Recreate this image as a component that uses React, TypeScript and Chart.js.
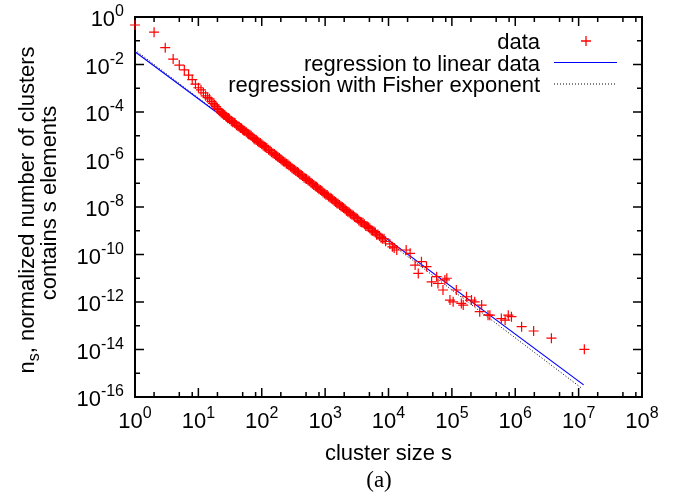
import React, { useEffect, useRef } from "react";
import { Chart, registerables } from "chart.js";

Chart.register(...registerables);

// ---------- data ----------
const clusterSize = [
  1, 2, 3, 4, 5, 6, 7, 8, 9, 10, 11, 12, 13, 14, 15, 16, 17, 18, 19, 20, 21, 22,
  23, 24, 25, 27, 29, 31, 33, 34, 37, 40, 42, 44, 48, 50, 52, 57, 60, 62, 68, 72,
  75, 82, 86, 90, 100, 105, 110, 120, 128, 135, 150, 158, 165, 180, 190, 200, 220,
  232, 245, 270, 285, 300, 330, 345, 365, 400, 420, 440, 490, 510, 540, 600, 630,
  660, 730, 760, 800, 890, 930, 980, 1080, 1130, 1200, 1320, 1390, 1460, 1600,
  1690, 1780, 1960, 2060, 2170, 2400, 2520, 2650, 2930, 3080, 3240, 3580, 3760,
  3960, 4380, 4600, 4840, 5350, 5600, 5900, 6500, 6800, 7200, 8000, 8500, 9000,
  10500, 11500, 12300, 13500, 19000, 21900, 26300, 29500, 33100, 39800, 47900,
  57500, 60300, 72400, 77600, 83200, 93300, 104700, 117500, 141000, 151000,
  170000, 204000, 229000, 275000, 295000, 372000, 398000, 603000, 692000, 776000,
  871000, 1260000, 1950000, 3720000, 12300000,
  26, 28, 30, 35, 38, 46, 54, 65, 78, 95, 115, 142, 172, 210, 258, 315, 380, 465,
  570, 700, 850, 1030, 1260, 1530, 1870, 2280, 2790, 3400, 4160, 5080, 6200, 7600,
];
const clusterDensity = [
  0.46, 0.23, 0.051, 0.017, 0.0095, 0.0059, 0.0036, 0.0023, 0.0015, 0.00105,
  8.5e-4, 6.4e-4, 4.8e-4, 4.0e-4, 3.6e-4, 2.8e-4, 2.3e-4, 2.0e-4, 1.7e-4, 1.4e-4,
  1.25e-4, 1.05e-4,
  9.4e-5, 8.6e-5, 7.6e-5, 6.7e-5, 5.5e-5, 5.0e-5, 4.3e-5, 4.0e-5, 3.5e-5, 2.8e-5,
  2.6e-5, 2.4e-5, 2.05e-5, 1.8e-5, 1.65e-5, 1.42e-5, 1.25e-5, 1.15e-5, 9.9e-6,
  8.6e-6, 7.7e-6, 6.6e-6, 5.8e-6, 5.3e-6, 4.4e-6, 3.9e-6, 3.5e-6, 3.05e-6, 2.6e-6,
  2.35e-6, 1.85e-6, 1.7e-6, 1.52e-6, 1.27e-6, 1.15e-6, 1.02e-6, 8.2e-7, 7.6e-7,
  6.6e-7, 5.6e-7, 4.9e-7, 4.3e-7, 3.7e-7, 3.3e-7, 2.95e-7, 2.4e-7, 2.2e-7, 2.0e-7,
  1.58e-7, 1.5e-7, 1.32e-7, 1.04e-7, 9.6e-8, 8.5e-8, 7.1e-8, 6.4e-8, 5.6e-8,
  4.7e-8, 4.1e-8, 3.7e-8, 3.2e-8, 2.8e-8, 2.45e-8, 2.05e-8, 1.8e-8, 1.62e-8,
  1.38e-8, 1.22e-8, 1.08e-8, 9.1e-9, 8.0e-9, 7.0e-9, 5.9e-9, 5.2e-9, 4.7e-9,
  3.8e-9, 3.5e-9, 3.2e-9, 2.4e-9, 2.3e-9, 2.15e-9, 1.6e-9, 1.55e-9, 1.4e-9,
  1.05e-9, 1.0e-9, 9.2e-10, 6.8e-10, 7.0e-10, 6.0e-10, 4.6e-10, 4.6e-10, 3.6e-10,
  2.8e-10, 2.1e-10, 1.9e-10, 1.55e-10, 1.55e-10, 1.12e-10, 3.6e-11, 1.6e-11,
  5.0e-11, 3.1e-11, 7.1e-12, 1.17e-11, 6.0e-12, 3.2e-12, 8.5e-12, 1.0e-11,
  1.2e-12, 1.02e-12, 3.2e-12, 8.7e-13, 7.4e-13, 1.66e-12, 1.2e-12, 1.02e-12,
  3.9e-13, 7.4e-13, 2.8e-13, 2.8e-13, 2.0e-13, 1.74e-13, 2.8e-13, 2.4e-13,
  9.1e-14, 6.0e-14, 3.0e-14, 1.02e-14,
  7.4e-5, 6.1e-5, 5.6e-5, 3.7e-5, 3.4e-5, 2.1e-5, 1.6e-5, 1.1e-5, 7.0e-6, 5.0e-6,
  3.3e-6, 2.0e-6, 1.45e-6, 9.0e-7, 6.3e-7, 3.9e-7, 2.8e-7, 1.7e-7, 1.2e-7, 7.4e-8,
  5.2e-8, 3.3e-8, 2.3e-8, 1.45e-8, 1.0e-8, 6.3e-9, 4.4e-9, 2.7e-9, 1.9e-9, 1.25e-9,
  8.4e-10, 5.1e-10,
];

const linearFitS = [1, 1.2e7];
const linearFitN = [0.0347, 3.24e-16];
const fisherFitS = [1, 1.12e7];
const fisherFitN = [0.0407, 2.34e-16];

const xTickExponents = [0, 1, 2, 3, 4, 5, 6, 7, 8];
const xMinorMultipliers = [2, 5, 8];
const yTickExponents = [0, -1, -2, -3, -4, -5, -6, -7, -8, -9, -10, -11, -12, -13, -14, -15, -16];
const yLabelExponents = [0, -2, -4, -6, -8, -10, -12, -14, -16];

const seriesLabels = ["data", "regression to linear data", "regression with Fisher exponent"];
const xTitle = "cluster size s";
const yTitleLine1 = ["n", "s", ", normalized number of clusters"];
const yTitleLine2 = "contains s elements";
const caption = "(a)";

// ---------- styling ----------
const SANS = '"Liberation Sans", Arial, Helvetica, sans-serif';
const MAIN_FONT = `22px ${SANS}`;
const SUP_FONT = `16px ${SANS}`;
const RED = "#ff0000";
const BLUE = "#0000ff";

function drawPower(ctx: CanvasRenderingContext2D, base: string, exp: string, x: number, baseline: number, align: "center" | "right") {
  ctx.font = MAIN_FONT;
  const wb = ctx.measureText(base).width;
  ctx.font = SUP_FONT;
  const we = ctx.measureText(exp).width;
  const total = wb + we;
  const start = align === "center" ? x - total / 2 : x - total;
  ctx.textAlign = "left";
  ctx.textBaseline = "alphabetic";
  ctx.font = MAIN_FONT;
  ctx.fillText(base, start, baseline);
  ctx.font = SUP_FONT;
  ctx.fillText(exp, start + wb, baseline - 10);
}

const gnuplotPlugin = {
  id: "gnuplotFrame",
  beforeDatasetsDraw(chart: any) {
    const { ctx, chartArea: a, scales } = chart;
    const xs = scales.x;
    const ys = scales.y;
    ctx.save();
    ctx.strokeStyle = "#000";
    ctx.lineWidth = 1.5;
    ctx.beginPath();
    xTickExponents.forEach((k) => {
      const v = Math.pow(10, k);
      const px = xs.getPixelForValue(v);
      ctx.moveTo(px, a.bottom); ctx.lineTo(px, a.bottom - 9);
      ctx.moveTo(px, a.top); ctx.lineTo(px, a.top + 9);
      if (k < 8) {
        xMinorMultipliers.forEach((m) => {
          const q = xs.getPixelForValue(m * v);
          ctx.moveTo(q, a.bottom); ctx.lineTo(q, a.bottom - 5);
          ctx.moveTo(q, a.top); ctx.lineTo(q, a.top + 5);
        });
      }
    });
    yTickExponents.forEach((k) => {
      const py = ys.getPixelForValue(Math.pow(10, k));
      const len = k % 2 === 0 ? 9 : 5;
      ctx.moveTo(a.left, py); ctx.lineTo(a.left + len, py);
      ctx.moveTo(a.right, py); ctx.lineTo(a.right - len, py);
    });
    ctx.stroke();
    ctx.lineWidth = 2;
    ctx.strokeRect(a.left, a.top, a.right - a.left, a.bottom - a.top);
    ctx.restore();
  },
  afterDraw(chart: any) {
    const { ctx, chartArea: a, scales } = chart;
    const xs = scales.x;
    const ys = scales.y;
    ctx.save();
    ctx.fillStyle = "#000";
    xTickExponents.forEach((k) => {
      const px = xs.getPixelForValue(Math.pow(10, k));
      drawPower(ctx, "10", String(k), px, a.bottom + 31, "center");
    });
    yLabelExponents.forEach((k) => {
      const py = ys.getPixelForValue(Math.pow(10, k));
      drawPower(ctx, "10", String(k), a.left - 11, py + 9, "right");
    });
    ctx.font = MAIN_FONT;
    ctx.textAlign = "center";
    ctx.textBaseline = "alphabetic";
    ctx.fillText(xTitle, (a.left + a.right) / 2, 460);
    // y title (two lines, rotated)
    ctx.save();
    ctx.translate(34, 210);
    ctx.rotate(-Math.PI / 2);
    ctx.textAlign = "left";
    ctx.font = MAIN_FONT;
    const w0 = ctx.measureText(yTitleLine1[0]).width;
    const w2 = ctx.measureText(yTitleLine1[2]).width;
    ctx.font = SUP_FONT;
    const w1 = ctx.measureText(yTitleLine1[1]).width;
    let sx = -(w0 + w1 + w2) / 2;
    ctx.font = MAIN_FONT;
    ctx.fillText(yTitleLine1[0], sx, 0);
    sx += w0;
    ctx.font = SUP_FONT;
    ctx.fillText(yTitleLine1[1], sx, 5);
    sx += w1;
    ctx.font = MAIN_FONT;
    ctx.fillText(yTitleLine1[2], sx, 0);
    ctx.restore();
    ctx.save();
    ctx.translate(56, 203);
    ctx.rotate(-Math.PI / 2);
    ctx.font = MAIN_FONT;
    ctx.textAlign = "center";
    ctx.fillText(yTitleLine2, 0, 0);
    ctx.restore();
    // legend
    const textRight = 540;
    const rows = [41, 62.5, 84];
    ctx.font = MAIN_FONT;
    ctx.textAlign = "right";
    seriesLabels.forEach((t, i) => ctx.fillText(t, textRight, rows[i] + 8));
    ctx.strokeStyle = RED;
    ctx.lineWidth = 1.3;
    ctx.beginPath();
    ctx.moveTo(581, rows[0]); ctx.lineTo(591, rows[0]);
    ctx.moveTo(586, rows[0] - 5); ctx.lineTo(586, rows[0] + 5);
    ctx.stroke();
    ctx.strokeStyle = BLUE;
    ctx.lineWidth = 1.2;
    ctx.beginPath();
    ctx.moveTo(554, rows[1]); ctx.lineTo(617, rows[1]);
    ctx.stroke();
    ctx.strokeStyle = "#000";
    ctx.lineWidth = 1;
    ctx.setLineDash([1, 2]);
    ctx.beginPath();
    ctx.moveTo(554, rows[2]); ctx.lineTo(617, rows[2]);
    ctx.stroke();
    ctx.setLineDash([]);
    ctx.font = '23px "Liberation Serif", "Times New Roman", serif';
    ctx.textAlign = "center";
    ctx.fillStyle = "#000";
    ctx.fillText(caption, 379, 487);
    ctx.restore();
  },
};

export default function App() {
  const ref = useRef<HTMLCanvasElement | null>(null);
  useEffect(() => {
    if (!ref.current) return;
    const points = clusterSize.map((s, i) => ({ x: s, y: clusterDensity[i] }));
    const linear = linearFitS.map((s, i) => ({ x: s, y: linearFitN[i] }));
    const fisher = fisherFitS.map((s, i) => ({ x: s, y: fisherFitN[i] }));
    const chart = new Chart(ref.current, {
      type: "scatter",
      data: {
        datasets: [
          {
            label: seriesLabels[2],
            data: fisher,
            showLine: true,
            borderColor: "#000",
            borderWidth: 1,
            borderDash: [1, 2],
            pointRadius: 0,
            order: 3,
          },
          {
            label: seriesLabels[1],
            data: linear,
            showLine: true,
            borderColor: BLUE,
            borderWidth: 1.2,
            pointRadius: 0,
            order: 2,
          },
          {
            label: seriesLabels[0],
            data: points,
            pointStyle: "cross",
            pointRadius: 5,
            pointBorderWidth: 1.2,
            borderColor: RED,
            backgroundColor: RED,
            showLine: false,
            clip: false as any,
            order: 1,
          },
        ],
      },
      options: {
        responsive: false,
        animation: false,
        devicePixelRatio: 1,
        layout: { padding: { left: 135, top: 17, right: 32, bottom: 101 } },
        scales: {
          x: { type: "logarithmic", min: 1, max: 1e8, display: false },
          y: { type: "logarithmic", min: 1e-16, max: 1, display: false },
        },
        plugins: { legend: { display: false }, tooltip: { enabled: false }, title: { display: false } },
        events: [],
      },
      plugins: [gnuplotPlugin],
    });
    return () => chart.destroy();
  }, []);
  return (
    <div style={{ position: "absolute", left: 0, top: 0, width: 674, height: 498, background: "#fff" }}>
      <canvas ref={ref} width={674} height={498} style={{ display: "block", width: 674, height: 498 }} />
    </div>
  );
}
